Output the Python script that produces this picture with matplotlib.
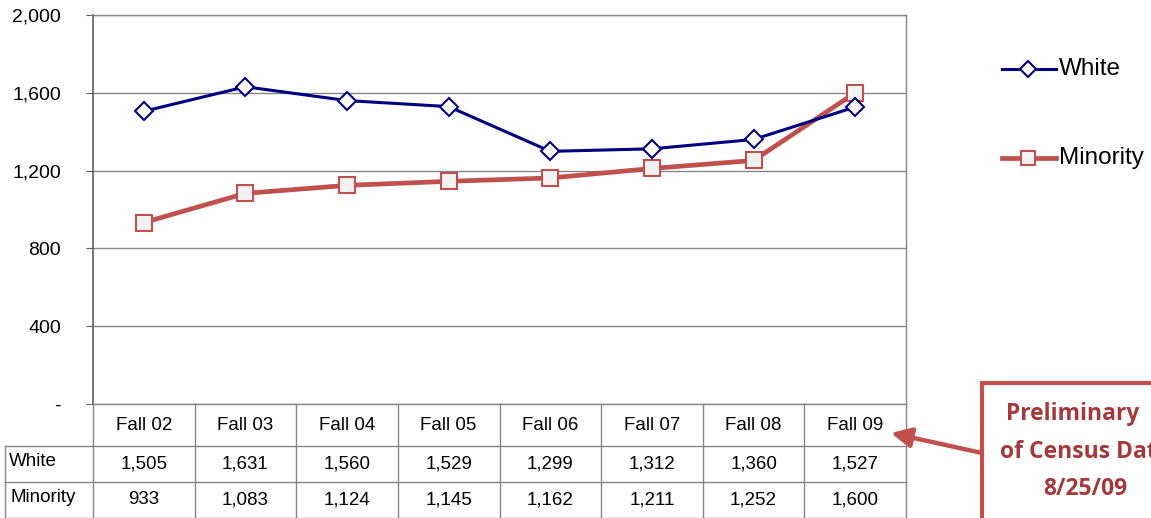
import matplotlib
matplotlib.use("Agg")
import matplotlib.pyplot as plt
from matplotlib.patches import Rectangle, FancyArrowPatch
from matplotlib.lines import Line2D
import matplotlib.transforms as mtransforms

categories = ["Fall 02", "Fall 03", "Fall 04", "Fall 05", "Fall 06", "Fall 07", "Fall 08", "Fall 09"]
white = [1505, 1631, 1560, 1529, 1299, 1312, 1360, 1527]
minority = [933, 1083, 1124, 1145, 1162, 1211, 1252, 1600]
yticks = [0, 400, 800, 1200, 1600, 2000]
ytick_labels = ["-", "400", "800", "1,200", "1,600", "2,000"]
note_lines = ["Preliminary", "of Census Data", "8/25/09"]

plt.rcParams['font.family'] = ['Liberation Sans', 'DejaVu Sans']

W, H = 1151, 518
fig = plt.figure(figsize=(W / 100, H / 100), dpi=100)

def fx(px):
    return px / W

def fy(py):
    return 1 - py / H

left, right, top, bottom = 93, 906, 15, 404
ax = fig.add_axes([fx(left), fy(bottom), fx(right) - fx(left), fy(top) - fy(bottom)])

navy = "#000080"
red = "#C0504D"
grid_c = "#868686"
fs = 13.5

x = list(range(len(categories)))
ax.plot(x, white, color=navy, lw=2.2, marker="D", ms=9.5, mfc="white", mec=navy, mew=1.5, zorder=4, label="White")
ax.plot(x, minority, color=red, lw=3.4, marker="s", ms=11, mfc="#F2F2F2", mec=red, mew=1.5, zorder=3, label="Minority")

ax.set_xlim(-0.5, len(categories) - 0.5)
ax.set_ylim(0, 2000)
ax.set_yticks(yticks)
ax.set_yticklabels(ytick_labels, fontsize=14)
ax.set_xticks([])
ax.yaxis.grid(True, color=grid_c, lw=1)
ax.set_axisbelow(True)
for s in ["top", "right", "bottom"]:
    ax.spines[s].set_color(grid_c)
    ax.spines[s].set_linewidth(1)
ax.spines["left"].set_color("#606060")
ax.spines["left"].set_linewidth(1.2)
ax.tick_params(axis="y", direction="out", length=5, color="#606060", pad=18)

# data table below the axes
trans = mtransforms.blended_transform_factory(ax.transData, fig.transFigure)
n = len(categories)
x_label_left = -0.5 - (left - 5) / ((right - left) / n)
line_kw = dict(color=grid_c, lw=1, transform=trans, clip_on=False)
for i in range(n + 1):
    xv = i - 0.5
    fig.add_artist(Line2D([xv, xv], [fy(404), fy(520)], **line_kw))
fig.add_artist(Line2D([x_label_left, x_label_left], [fy(446), fy(520)], **line_kw))
fig.add_artist(Line2D([x_label_left, n - 0.5], [fy(446), fy(446)], **line_kw))
fig.add_artist(Line2D([x_label_left, n - 0.5], [fy(482), fy(482)], **line_kw))
fig.add_artist(Line2D([x_label_left, n - 0.5], [fy(517.5), fy(517.5)], **line_kw))

for i, c in enumerate(categories):
    fig.text(i, fy(425), c, transform=trans, ha="center", va="center", fontsize=fs)
    fig.text(i, fy(464), f"{white[i]:,}", transform=trans, ha="center", va="center", fontsize=fs)
    fig.text(i, fy(500), f"{minority[i]:,}", transform=trans, ha="center", va="center", fontsize=fs)
fig.text(fx(9), fy(462), "White", ha="left", va="center", fontsize=fs)
fig.text(fx(10), fy(497), "Minority", ha="left", va="center", fontsize=fs)

# legend
leg_items = [("White", navy, "D", 2.2, 8.5, "white", 69), ("Minority", red, "s", 3.4, 10.5, "#F2F2F2", 158)]
for name, col, mk, lw, ms, mfc, yy in leg_items:
    fig.add_artist(Line2D([fx(1002), fx(1056)], [fy(yy), fy(yy)], color=col, lw=lw))
    fig.add_artist(Line2D([fx(1028)], [fy(yy)], marker=mk, ms=ms, mfc=mfc, mec=col, mew=1.5, ls="none"))
    fig.text(fx(1059), fy(yy), name, ha="left", va="center", fontsize=17.5)

# annotation box
box = Rectangle((fx(982), fy(540)), fx(200), fy(383) - fy(540), transform=fig.transFigure,
                facecolor="white", edgecolor=red, lw=3, zorder=5)
fig.add_artist(box)
note_pos = [(1073, 414), (1085, 452), (1085, 489)]
for txt, (px, py) in zip(note_lines, note_pos):
    fig.text(fx(px), fy(py), txt, ha="center", va="center", fontsize=16.5, fontweight="bold",
             color="#A5393A", family=["Open Sans", "DejaVu Sans"], zorder=6)
arrow = FancyArrowPatch((fx(982), fy(453)), (fx(891), fy(433)), transform=fig.transFigure,
                        arrowstyle="-|>,head_length=12,head_width=6", color=red, lw=3.2, zorder=6,
                        shrinkA=0, shrinkB=0)
fig.add_artist(arrow)

fig.savefig("out.png", dpi=100)
